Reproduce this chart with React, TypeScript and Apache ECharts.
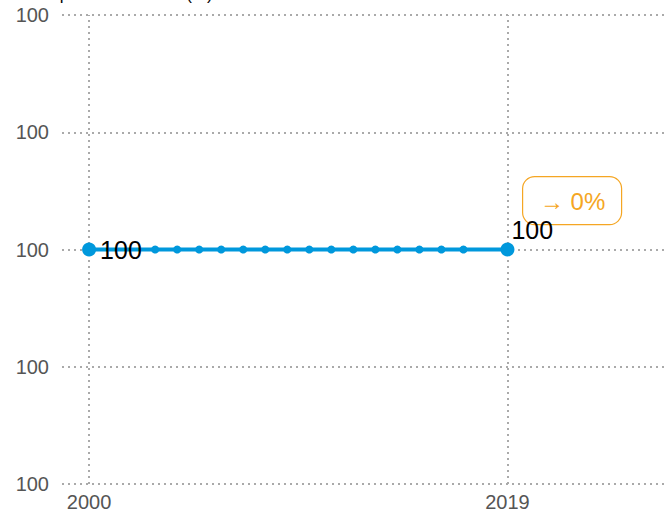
import React, { useEffect, useRef } from "react";
import * as echarts from "echarts";

const titleText = "Real price level index (%)";
const years = [2000, 2003, 2004, 2005, 2006, 2007, 2008, 2009, 2010, 2011, 2012, 2013, 2014, 2015, 2016, 2017, 2019];
const values = [100, 100, 100, 100, 100, 100, 100, 100, 100, 100, 100, 100, 100, 100, 100, 100, 100];
const xLabelYears = [2000, 2019];
const changeText = "→ 0%";

export default function App() {
  const ref = useRef<HTMLDivElement>(null);
  useEffect(() => {
    document.body.style.margin = "0";
    const chart = echarts.init(ref.current!, null, { renderer: "svg" });
    const last = years.length - 1;
    const fmt = (p: any) => String(Math.round(p.value[1]));
    const data = years.map((y, i) => {
      const item: any = { value: [y, values[i]] };
      if (i === 0) {
        item.symbolSize = 14;
        item.label = { show: true, position: "right", distance: 4, fontSize: 25, color: "#000", formatter: fmt };
      } else if (i === last) {
        item.symbolSize = 14;
        item.label = { show: true, position: "top", align: "left", offset: [4, 5], fontSize: 25, color: "#000", formatter: fmt };
      }
      return item;
    });
    const gridLine = { color: "#aaaaaa", width: 2, type: [2, 4] as any };
    chart.setOption({
      animation: false,
      textStyle: { fontFamily: "Liberation Sans" },
      title: {
        text: titleText,
        left: 15,
        top: -19,
        textStyle: { fontSize: 17, fontWeight: "normal", color: "#000", fontFamily: "Liberation Sans" },
      },
      grid: { left: 62, right: 0, top: 15, bottom: 32, containLabel: false },
      xAxis: {
        type: "value",
        min: 1998.77,
        max: 2026.2,
        axisLine: { show: false },
        axisTick: { show: false },
        splitLine: { show: false },
        axisLabel: {
          customValues: xLabelYears,
          formatter: (v: number) => String(Math.round(v)),
          color: "#555",
          fontSize: 20,
          margin: 8,
          fontFamily: "Liberation Sans",
        },
      },
      yAxis: {
        type: "value",
        min: 99.6,
        max: 100.4,
        interval: 0.2,
        axisLine: { show: false },
        axisTick: { show: false },
        splitLine: { show: true, lineStyle: gridLine },
        axisLabel: {
          formatter: (v: number) => v.toFixed(0),
          color: "#555",
          fontSize: 20,
          margin: 13,
          fontFamily: "Liberation Sans",
        },
      },
      series: [
        {
          type: "line",
          data,
          symbol: "circle",
          symbolSize: 8,
          showAllSymbol: true,
          color: "#0098dc",
          lineStyle: { width: 4, color: "#0098dc" },
          itemStyle: { color: "#0098dc" },
          label: { show: false, fontFamily: "Liberation Sans" },
          markLine: {
            silent: true,
            symbol: "none",
            label: { show: false },
            lineStyle: gridLine,
            data: xLabelYears.map((y) => ({ xAxis: y })),
            z: 1,
          },
          z: 3,
        },
      ],
      graphic: [
        {
          type: "group",
          left: 522,
          top: 176,
          children: [
            {
              type: "rect",
              shape: { x: 0, y: 0, width: 99, height: 48, r: 12 },
              style: { fill: "#fff", stroke: "#f5a623", lineWidth: 1.2 },
            },
            {
              type: "text",
              x: 50,
              y: 25,
              style: {
                text: changeText,
                fill: "#f5a623",
                fontSize: 24,
                fontFamily: "Liberation Sans",
                textAlign: "center",
                textVerticalAlign: "middle",
              },
            },
          ],
        },
      ],
    });
    return () => chart.dispose();
  }, []);
  return <div ref={ref} style={{ width: 666, height: 516 }} />;
}
